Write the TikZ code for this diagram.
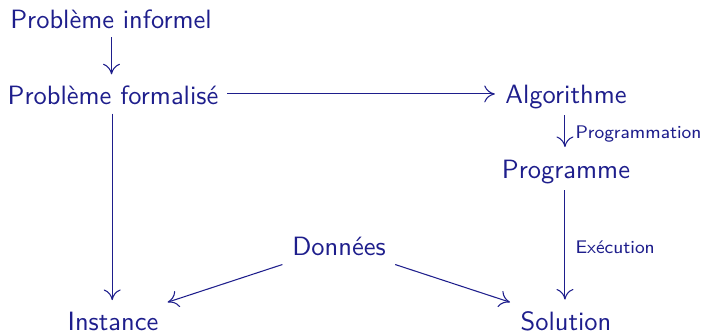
\documentclass[tikz,border=0pt]{standalone}
\usepackage{fontspec}
\setmainfont{Latin Modern Sans}
\usetikzlibrary{arrows.meta}
\definecolor{ink}{RGB}{30,30,140}
\begin{document}
\begin{tikzpicture}[x=0.3777pt,y=-0.3777pt,
  every node/.style={text=ink},
  txt/.style={font=\fontsize{10}{12}\selectfont, anchor=base, inner sep=0pt,
    text height=7pt, text depth=2pt},
  lab/.style={font=\fontsize{6.9}{8}\selectfont, inner sep=0pt, xshift=3.8pt},
  arr/.style={draw=ink, line width=0.4pt,
    -{Computer Modern Rightarrow[length=4pt, width=6.4pt]}}]
\useasboundingbox (0,0) rectangle (704,332);
\node[txt] (pi) at (111,28) {Problème informel};
\node[txt] (pf) at (113,104) {Problème formalisé};
\node[txt] (al) at (566,103) {Algorithme};
\node[txt] (pg) at (566,178) {Programme};
\node[txt] (do) at (339,255) {Données};
\node[txt] (in) at (113,330) {Instance};
\node[txt] (so) at (566,330) {Solution};
\draw[arr, shorten <=1.3pt, shorten >=4pt] ([xshift=0.19pt]pi.south) -- ([xshift=0.19pt]pi.south |- pf.north);
\draw[arr, shorten <=3.2pt, shorten >=3.8pt] ([yshift=1.3pt]pf.east) -- ([yshift=1.3pt]pf.east -| al.west);
\draw[arr, shorten <=1.4pt, shorten >=4.1pt] ([xshift=-0.3pt]pf.south) -- ([xshift=-0.3pt]in.north);
\draw[arr, shorten <=2.5pt, shorten >=4.5pt] ([xshift=-0.4pt]al.south) -- node[lab, right] {Programmation} ([xshift=-0.4pt]pg.north);
\draw[arr, shorten <=2.5pt, shorten >=4.3pt] ([xshift=-0.4pt]pg.south) -- node[lab, right] {Exécution} ([xshift=-0.4pt]so.north);
\draw[arr] ([shift={(-3.55pt,-1.4pt)}]do.south west) -- ([shift={(3.3pt,3.3pt)}]in.north east);
\draw[arr] ([shift={(3.4pt,-1.4pt)}]do.south east) -- ([shift={(-3.8pt,3.3pt)}]so.north west);
\end{tikzpicture}
\end{document}
